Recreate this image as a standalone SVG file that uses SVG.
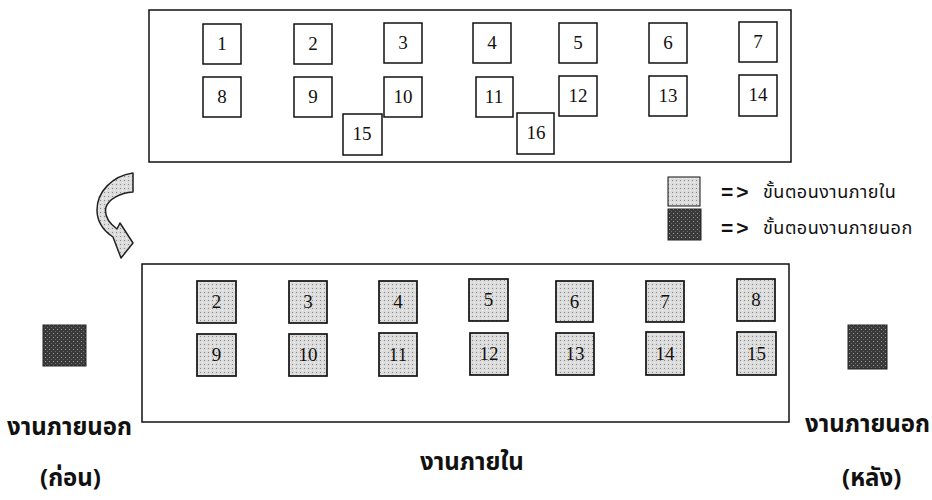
<svg xmlns="http://www.w3.org/2000/svg" width="932" height="500" viewBox="0 0 932 500">
<defs>
  <pattern id="lightDots" width="4" height="4" patternUnits="userSpaceOnUse">
    <rect width="4" height="4" fill="#dcdcdc"/>
    <rect x="0" y="0" width="1" height="1" fill="#888"/>
    <rect x="2" y="2" width="1" height="1" fill="#f4f4f4"/>
  </pattern>
  <pattern id="darkDots" width="4" height="4" patternUnits="userSpaceOnUse">
    <rect width="4" height="4" fill="#3a3a3a"/>
    <rect x="1" y="1" width="1" height="1" fill="#9a9a9a"/>
    <rect x="3" y="3" width="1" height="1" fill="#6a6a6a"/>
  </pattern>
</defs>
<style>
  .frame { fill: none; stroke: #111; stroke-width: 1.5; }
  .box { fill: #fff; stroke: #111; stroke-width: 1.5; }
  .lbox { fill: url(#lightDots); stroke: #111; stroke-width: 1.7; }
  .dbox { fill: url(#darkDots); stroke: #222; stroke-width: 1; }
  .num { font-family: "Liberation Serif", "DejaVu Serif", serif; font-size: 19px; fill: #111; text-anchor: middle; }
  .th { font-family: "Noto Sans Thai", "Noto Serif Thai", "Loma", "Garuda", "Norasi", "Tlwg Typo", "DejaVu Sans", sans-serif; fill: #111; }
  .lbl { font-size: 24px; font-weight: bold; }
  .leg { font-size: 18px; letter-spacing: 0.5px; }
  .arrowsym { font-family: "Liberation Sans", Arial, sans-serif; font-size: 21px; font-weight: bold; fill: #111; letter-spacing: 3px; }
</style>

<rect class="frame" x="149" y="10" width="642" height="152"/>
<g id="top-nodes">
  <g id="t1"><rect class="box" x="203" y="24" width="38" height="40"/><text class="num" x="222" y="50">1</text></g>
  <g id="t2"><rect class="box" x="294" y="24" width="38" height="40"/><text class="num" x="313" y="50">2</text></g>
  <g id="t3"><rect class="box" x="384" y="23" width="38" height="40"/><text class="num" x="403" y="49">3</text></g>
  <g id="t4"><rect class="box" x="473" y="23" width="38" height="40"/><text class="num" x="492" y="49">4</text></g>
  <g id="t5"><rect class="box" x="559" y="23" width="38" height="40"/><text class="num" x="578" y="49">5</text></g>
  <g id="t6"><rect class="box" x="649" y="23" width="38" height="40"/><text class="num" x="668" y="49">6</text></g>
  <g id="t7"><rect class="box" x="739" y="22" width="38" height="40"/><text class="num" x="758" y="48">7</text></g>
  <g id="t8"><rect class="box" x="203" y="77" width="38" height="40"/><text class="num" x="222" y="103">8</text></g>
  <g id="t9"><rect class="box" x="294" y="77" width="38" height="40"/><text class="num" x="313" y="103">9</text></g>
  <g id="t10"><rect class="box" x="384" y="77" width="38" height="40"/><text class="num" x="403" y="103">10</text></g>
  <g id="t11"><rect class="box" x="476" y="77" width="37" height="40"/><text class="num" x="494" y="103">11</text></g>
  <g id="t12"><rect class="box" x="559" y="76" width="38" height="40"/><text class="num" x="578" y="102">12</text></g>
  <g id="t13"><rect class="box" x="649" y="76" width="38" height="40"/><text class="num" x="668" y="102">13</text></g>
  <g id="t14"><rect class="box" x="739" y="75" width="38" height="41"/><text class="num" x="758" y="101">14</text></g>
  <g id="t15"><rect class="box" x="343" y="114" width="39" height="41"/><text class="num" x="362" y="140">15</text></g>
  <g id="t16"><rect class="box" x="517" y="113" width="37" height="41"/><text class="num" x="536" y="139">16</text></g>
</g>

<g id="connectors">
  <path id="curved-arrow" d="M133,173 C112,176 97,192 97,210 C97,222 104,231 113,237 L121,258 L133,243 L120,223 L117,229 C109,223 104,215 106,207 C109,199 120,193 133,192 Z" fill="url(#lightDots)" stroke="#222" stroke-width="1.5" stroke-linejoin="round"/>
</g>

<g id="legend">
  <rect class="lbox" x="668" y="177" width="32" height="29" style="stroke-width:1"/>
  <text class="arrowsym" x="721" y="199">=&gt;</text>
  <text class="th leg" x="763" y="198">ขั้นตอนงานภายใน</text>
  <rect class="dbox" x="668" y="209" width="33" height="31"/>
  <text class="arrowsym" x="721" y="235">=&gt;</text>
  <text class="th leg" x="763" y="234">ขั้นตอนงานภายนอก</text>
</g>

<rect class="frame" x="142" y="264" width="647" height="158"/>
<g id="bottom-nodes">
  <g id="b2"><rect class="lbox" x="197" y="281" width="39" height="42"/><text class="num" x="216.5" y="308">2</text></g>
  <g id="b3"><rect class="lbox" x="289" y="281" width="38" height="42"/><text class="num" x="308" y="308">3</text></g>
  <g id="b4"><rect class="lbox" x="379" y="281" width="38" height="42"/><text class="num" x="398" y="308">4</text></g>
  <g id="b5"><rect class="lbox" x="469" y="279" width="39" height="42"/><text class="num" x="488.5" y="306">5</text></g>
  <g id="b6"><rect class="lbox" x="556" y="281" width="37" height="41"/><text class="num" x="574.5" y="308">6</text></g>
  <g id="b7"><rect class="lbox" x="646" y="281" width="38" height="41"/><text class="num" x="665" y="308">7</text></g>
  <g id="b8"><rect class="lbox" x="737" y="279" width="38" height="42"/><text class="num" x="756" y="306">8</text></g>
  <g id="b9"><rect class="lbox" x="197" y="334" width="39" height="42"/><text class="num" x="216.5" y="361">9</text></g>
  <g id="b10"><rect class="lbox" x="289" y="334" width="38" height="42"/><text class="num" x="308" y="361">10</text></g>
  <g id="b11"><rect class="lbox" x="379" y="333" width="38" height="43"/><text class="num" x="398" y="361">11</text></g>
  <g id="b12"><rect class="lbox" x="470" y="333" width="38" height="42"/><text class="num" x="489" y="360">12</text></g>
  <g id="b13"><rect class="lbox" x="556" y="333" width="38" height="42"/><text class="num" x="575" y="360">13</text></g>
  <g id="b14"><rect class="lbox" x="646" y="332" width="38" height="43"/><text class="num" x="665" y="360">14</text></g>
  <g id="b15"><rect class="lbox" x="737" y="332" width="39" height="43"/><text class="num" x="756.5" y="360">15</text></g>
</g>

<g id="outside-before">
  <rect class="dbox" x="43" y="325" width="43" height="41"/>
</g>
<g id="outside-after">
  <rect class="dbox" x="848" y="325" width="39" height="44"/>
</g>

<g id="labels">
  <text class="th lbl" x="7" y="435">งานภายนอก</text>
  <text class="th lbl" x="40" y="486">(ก่อน)</text>
  <text class="th lbl" x="420" y="470">งานภายใน</text>
  <text class="th lbl" x="805" y="432">งานภายนอก</text>
  <text class="th lbl" x="842" y="486">(หลัง)</text>
</g>
</svg>
